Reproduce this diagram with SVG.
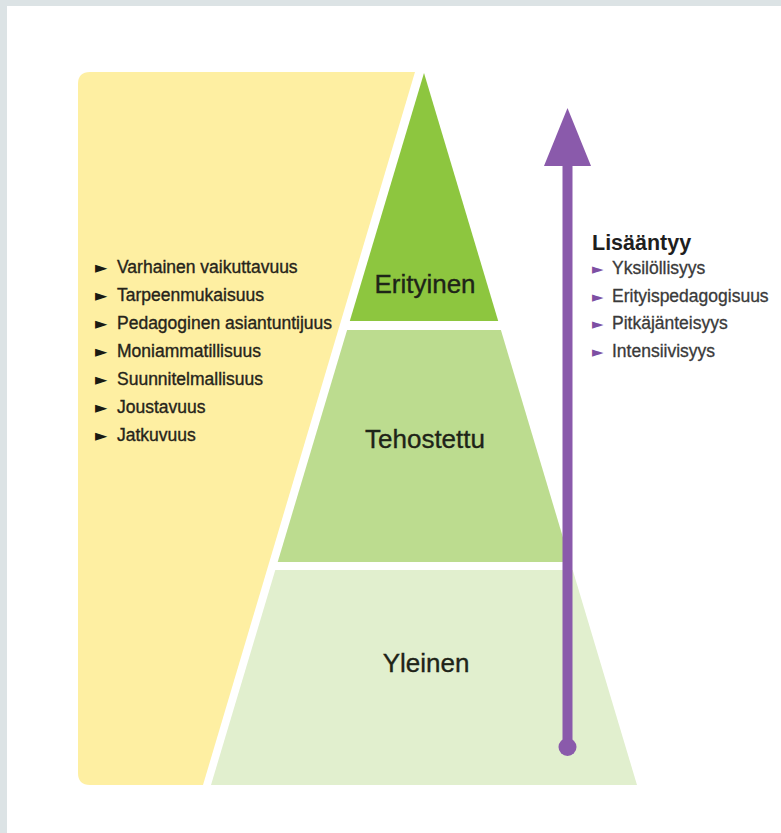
<svg xmlns="http://www.w3.org/2000/svg" width="781" height="833" viewBox="0 0 781 833">
<style>
.item{font-family:"Liberation Sans",Arial,sans-serif;font-size:17.5px;fill:#26241a;stroke:#26241a;stroke-width:0.35}
.ritem{font-family:"Liberation Sans",Arial,sans-serif;font-size:17.5px;fill:#3a3a3a;stroke:#3a3a3a;stroke-width:0.3}
.bul{font-family:"DejaVu Sans",sans-serif;font-size:16px;fill:#1a1a12}
.rbul{font-family:"DejaVu Sans",sans-serif;font-size:15px;fill:#7d4fa3}
.lvl{font-family:"Liberation Sans",Arial,sans-serif;font-size:26px;fill:#1e2418;stroke:#1e2418;stroke-width:0.35;text-anchor:middle}
</style>
<rect x="0" y="0" width="781" height="833" fill="#dce3e5"/>
<rect x="7" y="6" width="774" height="827" fill="#ffffff"/>
<g id="panel">
<path d="M90,72 L415,72 L203,785 L90,785 Q78,785 78,773 L78,84 Q78,72 90,72 Z" fill="#feefa2"/>
<g id="principles">
<text class="bul" x="95" y="273">►</text><text class="item" x="117" y="273">Varhainen vaikuttavuus</text>
<text class="bul" x="95" y="301">►</text><text class="item" x="117" y="301">Tarpeenmukaisuus</text>
<text class="bul" x="95" y="329">►</text><text class="item" x="117" y="329">Pedagoginen asiantuntijuus</text>
<text class="bul" x="95" y="357">►</text><text class="item" x="117" y="357">Moniammatillisuus</text>
<text class="bul" x="95" y="385">►</text><text class="item" x="117" y="385">Suunnitelmallisuus</text>
<text class="bul" x="95" y="413">►</text><text class="item" x="117" y="413">Joustavuus</text>
<text class="bul" x="95" y="441">►</text><text class="item" x="117" y="441">Jatkuvuus</text>
</g>
</g>
<g id="erityinen">
<polygon points="424,73 498.2,321 349.8,321" fill="#8dc63f"/>
<text class="lvl" x="425" y="293">Erityinen</text>
</g>
<g id="tehostettu">
<polygon points="347.1,330 500.9,330 570.3,562 277.7,562" fill="#bcdc8f"/>
<text class="lvl" x="425" y="448">Tehostettu</text>
</g>
<g id="yleinen">
<polygon points="275.3,570 572.7,570 637,785 211,785" fill="#e1efce"/>
<text class="lvl" x="426" y="672">Yleinen</text>
</g>
<g id="connectors">
<line x1="567.5" y1="747" x2="567.5" y2="160" stroke="#8a5aab" stroke-width="10"/>
<polygon points="567.5,108 591,166 544,166" fill="#8a5aab"/>
<circle cx="567.5" cy="747" r="9" fill="#8a5aab"/>
</g>
<g id="increase">
<text x="592" y="250" font-family="Liberation Sans,Arial,sans-serif" font-weight="bold" font-size="21.5" fill="#1e1e1e">Lisääntyy</text>
<text class="rbul" x="592" y="274">►</text><text class="ritem" x="612" y="274">Yksilöllisyys</text>
<text class="rbul" x="592" y="302">►</text><text class="ritem" x="612" y="302">Erityispedagogisuus</text>
<text class="rbul" x="592" y="329">►</text><text class="ritem" x="612" y="329">Pitkäjänteisyys</text>
<text class="rbul" x="592" y="357">►</text><text class="ritem" x="612" y="357">Intensiivisyys</text>
</g>
</svg>
